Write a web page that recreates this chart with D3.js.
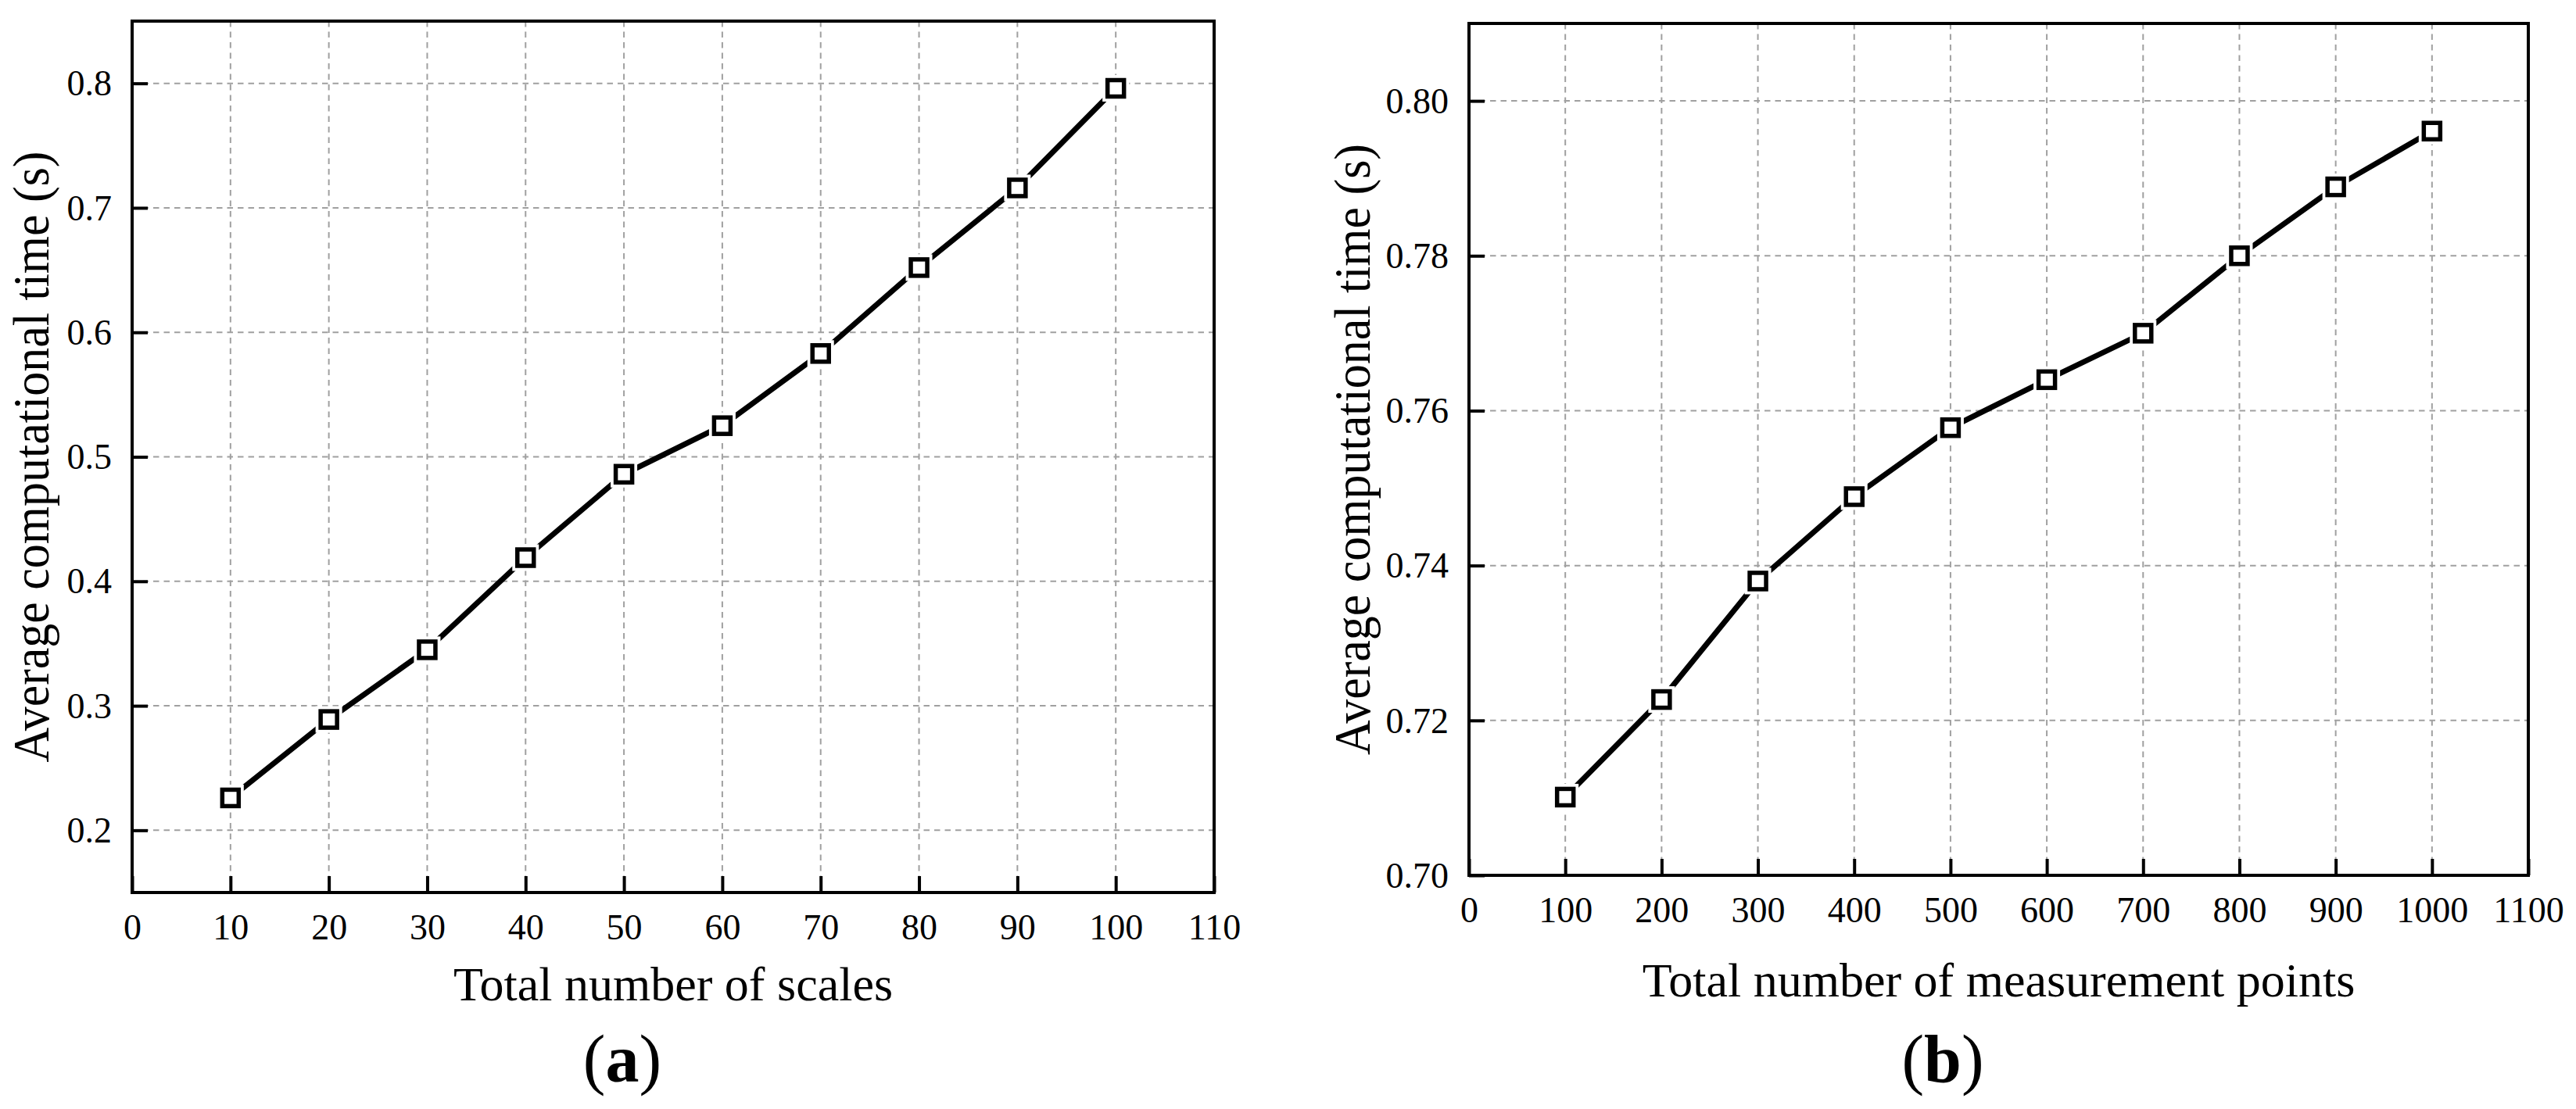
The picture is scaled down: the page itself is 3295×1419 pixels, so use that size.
<!DOCTYPE html>
<html><head><meta charset="utf-8">
<script src="https://cdn.jsdelivr.net/npm/d3@7/dist/d3.min.js"></script>
<style>
body{margin:0;background:#fff}
svg{display:block;background:#fff}
svg text{font-family:"Liberation Serif","Times New Roman",Tinos,"DejaVu Serif",serif !important;fill:#000}
</style>
</head><body>
<svg id="chart" width="3295" height="1419"></svg>
<script>
// ---- data ----
const scalesCount = [10, 20, 30, 40, 50, 60, 70, 80, 90, 100];
const scalesTime  = [0.226, 0.289, 0.345, 0.419, 0.486, 0.525, 0.583, 0.652, 0.716, 0.796];
const pointsCount = [100, 200, 300, 400, 500, 600, 700, 800, 900, 1000];
const pointsTime  = [0.7101, 0.7227, 0.7380, 0.7489, 0.7578, 0.7640, 0.7700, 0.7800, 0.7889, 0.7961];
const xTicksA = [0, 10, 20, 30, 40, 50, 60, 70, 80, 90, 100, 110];
const yTicksA = [0.2, 0.3, 0.4, 0.5, 0.6, 0.7, 0.8];
const xTicksB = [0, 100, 200, 300, 400, 500, 600, 700, 800, 900, 1000, 1100];
const yTicksB = [0.70, 0.72, 0.74, 0.76, 0.78, 0.80];
const xTitles = ["Total number of scales", "Total number of measurement points"];
const yTitle = "Average computational time (s)";
const panelLabels = ["a", "b"];

const svg = d3.select("#chart");
const SERIF = '"Liberation Serif","Times New Roman",Tinos,"DejaVu Serif",serif';

function drawPanel(o) {
  const x = d3.scaleLinear().domain(o.xDomain).range([o.left, o.right]);
  const y = d3.scaleLinear().domain(o.yDomain).range([o.bottom, o.top]);
  const g = svg.append("g");

  // grid
  g.append("g").selectAll("line").data(o.xTicks.filter(v => v > o.xDomain[0] && v < o.xDomain[1]))
    .join("line")
    .attr("x1", d => x(d)).attr("x2", d => x(d))
    .attr("y1", o.top).attr("y2", o.bottom)
    .attr("stroke", "#a0a0a0").attr("stroke-width", 2).attr("stroke-dasharray", "7.5,6");
  g.append("g").selectAll("line").data(o.yTicks.filter(v => v > o.yDomain[0] && v < o.yDomain[1]))
    .join("line")
    .attr("y1", d => y(d)).attr("y2", d => y(d))
    .attr("x1", o.left).attr("x2", o.right)
    .attr("stroke", "#a0a0a0").attr("stroke-width", 2).attr("stroke-dasharray", "7.5,6");

  // axes
  const xa = g.append("g").attr("transform", `translate(0,${o.bottom})`)
    .call(d3.axisBottom(x).tickValues(o.xTicks).tickFormat(d3.format("d")).tickSize(-21).tickPadding(0));
  xa.attr("font-family", SERIF).attr("font-size", 46);
  xa.select(".domain").remove();
  xa.selectAll(".tick line").attr("stroke", "#000").attr("stroke-width", 4);
  xa.selectAll(".tick text").attr("y", 60).attr("dy", 0).attr("fill", "#000");

  const ya = g.append("g").attr("transform", `translate(${o.left},0)`)
    .call(d3.axisLeft(y).tickValues(o.yTicks).tickFormat(d3.format(o.yFmt)).tickSize(-20).tickPadding(26));
  ya.attr("font-family", SERIF).attr("font-size", 46);
  ya.select(".domain").remove();
  ya.selectAll(".tick line").attr("stroke", "#000").attr("stroke-width", 4);
  ya.selectAll(".tick text").attr("dy", "0.33em").attr("fill", "#000");

  // frame
  g.append("rect").attr("x", o.left).attr("y", o.top)
    .attr("width", o.right - o.left).attr("height", o.bottom - o.top)
    .attr("fill", "none").attr("stroke", "#000").attr("stroke-width", 4);

  // line
  const pts = o.xs.map((v, i) => [v, o.ys[i]]);
  g.append("path").datum(pts)
    .attr("d", d3.line().x(d => x(d[0])).y(d => y(d[1])))
    .attr("fill", "none").attr("stroke", "#000").attr("stroke-width", 7);

  // markers
  g.append("g").selectAll("rect").data(pts).join("rect")
    .attr("x", d => x(d[0]) - 17).attr("y", d => y(d[1]) - 17)
    .attr("width", 34).attr("height", 34).attr("fill", "#fff");
  g.append("g").selectAll("rect").data(pts).join("rect")
    .attr("x", d => x(d[0]) - 10.5).attr("y", d => y(d[1]) - 10.5)
    .attr("width", 21).attr("height", 21)
    .attr("fill", "#fff").attr("stroke", "#000").attr("stroke-width", 5.5);

  // titles
  g.append("text").attr("x", (o.left + o.right) / 2).attr("y", o.xTitleY)
    .attr("font-family", SERIF)
    .attr("text-anchor", "middle").attr("font-size", 62).text(o.xTitle);
  g.append("text")
    .attr("transform", `translate(${o.yTitleX},${(o.top + o.bottom) / 2}) rotate(-90)`)
    .attr("font-family", SERIF)
    .attr("text-anchor", "middle").attr("font-size", 66)
    .attr("textLength", 782).attr("lengthAdjust", "spacingAndGlyphs")
    .text(yTitle);

  const lab = g.append("text").attr("x", o.labelX).attr("y", 1384)
    .attr("font-family", SERIF)
    .attr("text-anchor", "middle").attr("font-size", 86);
  lab.append("tspan").text("(");
  lab.append("tspan").attr("font-weight", "bold").text(o.label);
  lab.append("tspan").text(")");
}

drawPanel({
  left: 169, right: 1553, top: 27, bottom: 1142,
  xDomain: [0, 110], yDomain: [0.15, 0.85],
  xTicks: xTicksA, yTicks: yTicksA, yFmt: ".1f",
  xs: scalesCount, ys: scalesTime,
  xTitle: xTitles[0], xTitleY: 1280, yTitleX: 62,
  label: panelLabels[0], labelX: 796
});
drawPanel({
  left: 1879, right: 3234, top: 30, bottom: 1120,
  xDomain: [0, 1100], yDomain: [0.70, 0.81],
  xTicks: xTicksB, yTicks: yTicksB, yFmt: ".2f",
  xs: pointsCount, ys: pointsTime,
  xTitle: xTitles[1], xTitleY: 1275, yTitleX: 1752,
  label: panelLabels[1], labelX: 2485
});
</script>
</body></html>
